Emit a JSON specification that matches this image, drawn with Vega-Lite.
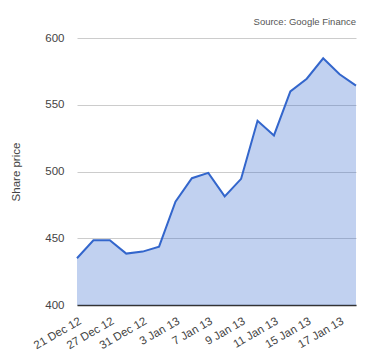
{
  "$schema": "https://vega.github.io/schema/vega-lite/v6.json",
  "width": 279,
  "height": 267,
  "autosize": {"type": "none"},
  "padding": {"left": 77, "top": 38, "right": 24, "bottom": 55},
  "background": "white",
  "config": {
    "font": "Liberation Sans",
    "view": {"stroke": null},
    "axis": {"labelFont": "Liberation Sans", "titleFont": "Liberation Sans"}
  },
  "title": {
    "text": "Source: Google Finance",
    "anchor": "end",
    "frame": "group",
    "fontSize": 9.5,
    "fontWeight": "normal",
    "color": "#555555",
    "offset": 6
  },
  "data": {
    "values": [
      {"date": "21 Dec 12", "price": 435},
      {"date": "24 Dec 12", "price": 448.5},
      {"date": "27 Dec 12", "price": 448.5},
      {"date": "28 Dec 12", "price": 438.5},
      {"date": "31 Dec 12", "price": 440},
      {"date": "2 Jan 13", "price": 443.7},
      {"date": "3 Jan 13", "price": 477.4},
      {"date": "4 Jan 13", "price": 495},
      {"date": "7 Jan 13", "price": 499},
      {"date": "8 Jan 13", "price": 481.4},
      {"date": "9 Jan 13", "price": 494.5},
      {"date": "10 Jan 13", "price": 538},
      {"date": "11 Jan 13", "price": 527},
      {"date": "14 Jan 13", "price": 560},
      {"date": "15 Jan 13", "price": 569.5},
      {"date": "16 Jan 13", "price": 584.8},
      {"date": "17 Jan 13", "price": 572.8},
      {"date": "18 Jan 13", "price": 564.3}
    ]
  },
  "encoding": {
    "x": {
      "field": "date",
      "type": "ordinal",
      "sort": null,
      "scale": {"type": "point", "padding": 0},
      "axis": {
        "title": null,
        "values": ["21 Dec 12", "27 Dec 12", "31 Dec 12", "3 Jan 13", "7 Jan 13", "9 Jan 13", "11 Jan 13", "15 Jan 13", "17 Jan 13"],
        "labelAngle": -30,
        "labelAlign": "right",
        "labelBaseline": "top",
        "labelFontSize": 11.5,
        "labelColor": "#444444",
        "labelPadding": 10,
        "ticks": false,
        "domainColor": "#333333",
        "domainWidth": 1.5,
        "grid": false
      }
    },
    "y": {
      "field": "price",
      "type": "quantitative",
      "scale": {"domain": [400, 600], "zero": false, "nice": false},
      "axis": {
        "title": "Share price",
        "titleFontSize": 11.5,
        "titleFontWeight": "normal",
        "titleColor": "#444444",
        "titleX": -56,
        "titleY": 133.5,
        "values": [400, 450, 500, 550, 600],
        "labelFontSize": 11.5,
        "labelColor": "#444444",
        "labelPadding": 13,
        "ticks": false,
        "domain": false,
        "grid": true,
        "gridColor": "#cccccc",
        "gridWidth": 1
      }
    }
  },
  "layer": [
    {
      "mark": {"type": "area", "color": "#3366cc", "opacity": 0.3},
      "encoding": {"y2": {"datum": 400}}
    },
    {
      "mark": {"type": "line", "color": "#3366cc", "strokeWidth": 2}
    }
  ]
}
